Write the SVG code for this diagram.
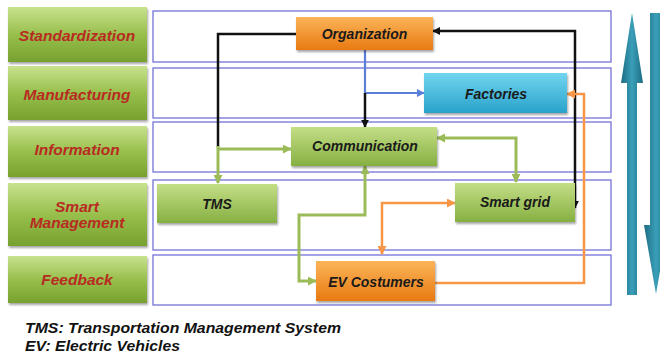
<svg xmlns="http://www.w3.org/2000/svg" width="660" height="354" viewBox="0 0 660 354">
<defs>
<linearGradient id="gLabel" x1="0" y1="0" x2="0" y2="1"><stop offset="0" stop-color="#c8e28e"/><stop offset="0.5" stop-color="#98bf4c"/><stop offset="1" stop-color="#77a12f"/></linearGradient>
<linearGradient id="gGreen" x1="0" y1="0" x2="0" y2="1"><stop offset="0" stop-color="#c4de86"/><stop offset="1" stop-color="#86b042"/></linearGradient>
<linearGradient id="gOrange" x1="0" y1="0" x2="0" y2="1"><stop offset="0" stop-color="#fbb458"/><stop offset="1" stop-color="#e87a12"/></linearGradient>
<linearGradient id="gBlue" x1="0" y1="0" x2="0" y2="1"><stop offset="0" stop-color="#72d5ef"/><stop offset="1" stop-color="#28a2cb"/></linearGradient>
<linearGradient id="gTeal" x1="0" y1="0" x2="1" y2="0"><stop offset="0" stop-color="#1d6c82"/><stop offset="0.5" stop-color="#3a9fb9"/><stop offset="1" stop-color="#1d6c82"/></linearGradient>
<filter id="sh" x="-10%" y="-20%" width="130%" height="160%"><feDropShadow dx="1" dy="2" stdDeviation="1.3" flood-color="#000" flood-opacity="0.35"/></filter>
<marker id="ag" viewBox="0 0 10 10" refX="9" refY="5" markerWidth="9" markerHeight="9" markerUnits="userSpaceOnUse" orient="auto-start-reverse"><path d="M0,0 L10,5 L0,10 z" fill="#9bbb59"/></marker>
<marker id="ak" viewBox="0 0 10 10" refX="9" refY="5" markerWidth="8" markerHeight="8" markerUnits="userSpaceOnUse" orient="auto-start-reverse"><path d="M0,0 L10,5 L0,10 z" fill="#111"/></marker>
<marker id="ab" viewBox="0 0 10 10" refX="9" refY="5" markerWidth="8" markerHeight="8" markerUnits="userSpaceOnUse" orient="auto-start-reverse"><path d="M0,0 L10,5 L0,10 z" fill="#5a7fd6"/></marker>
<marker id="ao" viewBox="0 0 10 10" refX="9" refY="5" markerWidth="9" markerHeight="9" markerUnits="userSpaceOnUse" orient="auto-start-reverse"><path d="M0,0 L10,5 L0,10 z" fill="#f79646"/></marker>
</defs>
<style>
.lane{fill:#fff;stroke:#7272d8;stroke-width:1.3}
.lbl{fill:url(#gLabel);filter:url(#sh)}
.lt{font-family:"Liberation Sans",Arial,sans-serif;font-weight:bold;font-style:italic;font-size:15.5px;fill:#b82a22;text-anchor:middle}
.nt{font-family:"Liberation Sans",Arial,sans-serif;font-weight:bold;font-style:italic;font-size:14px;fill:#1a1a1a;text-anchor:middle}
.leg{font-family:"Liberation Sans",Arial,sans-serif;font-weight:bold;font-style:italic;font-size:15px;fill:#111}
.c{fill:none;stroke-linejoin:miter}
.cg{stroke:#9bbb59;stroke-width:3}
.ck{stroke:#111;stroke-width:2.5}
.cb{stroke:#5a7fd6;stroke-width:2.2}
.co{stroke:#f79646;stroke-width:2.5}
</style>
<rect width="660" height="354" fill="#fff"/>
<g id="lanes">
<rect class="lane" x="153" y="11" width="458" height="51"/>
<rect class="lane" x="153" y="68" width="458" height="50"/>
<rect class="lane" x="153" y="122" width="458" height="50"/>
<rect class="lane" x="153" y="180" width="458" height="70"/>
<rect class="lane" x="153" y="255" width="458" height="50"/>
</g>
<g id="label-standardization"><rect class="lbl" x="8" y="7" width="139" height="55"/><text class="lt" x="77" y="40.5">Standardization</text></g>
<g id="label-manufacturing"><rect class="lbl" x="8" y="66" width="139" height="54"/><text class="lt" x="77" y="100">Manufacturing</text></g>
<g id="label-information"><rect class="lbl" x="8" y="126" width="139" height="51"/><text class="lt" x="77" y="155">Information</text></g>
<g id="label-smart-management"><rect class="lbl" x="8" y="183" width="139" height="63"/><text class="lt" x="77" y="212">Smart</text><text class="lt" x="77" y="228">Management</text></g>
<g id="label-feedback"><rect class="lbl" x="8" y="256" width="139" height="47"/><text class="lt" x="77" y="285">Feedback</text></g>
<g id="connectors">
<path class="c ck" d="M296,34 H218 V147"/>
<path class="c cg" d="M218,146 V183" marker-end="url(#ag)"/>
<path class="c cg" d="M218,149 H291" marker-end="url(#ag)"/>
<path class="c cb" d="M365,50 V93 H424" marker-end="url(#ab)"/>
<path class="c ck" d="M365,93 V127" marker-end="url(#ak)"/>
<path class="c ck" d="M433,31 H575 V208" marker-start="url(#ak)" marker-end="url(#ak)"/>
<path class="c cg" d="M437,138 H516 V182" marker-start="url(#ag)" marker-end="url(#ag)"/>
<path class="c cg" d="M365,166 V215 H299 V281 H316" marker-start="url(#ag)" marker-end="url(#ag)"/>
<path class="c co" d="M435,283 H584 V94 H567" marker-end="url(#ao)"/>
<path class="c co" d="M455,203 H382 V254" marker-start="url(#ao)" marker-end="url(#ao)"/>
</g>
<g id="node-organization"><rect x="296" y="17" width="137" height="33" fill="url(#gOrange)" filter="url(#sh)"/><text class="nt" x="364.5" y="39">Organization</text></g>
<g id="node-factories"><rect x="424" y="73" width="143" height="40" fill="url(#gBlue)" filter="url(#sh)"/><text class="nt" x="496" y="99" fill="#122a40">Factories</text></g>
<g id="node-communication"><rect x="291" y="127" width="146" height="39" fill="url(#gGreen)" filter="url(#sh)"/><text class="nt" x="365" y="151">Communication</text></g>
<g id="node-tms"><rect x="157" y="184" width="120" height="39" fill="url(#gGreen)" filter="url(#sh)"/><text class="nt" x="217" y="209">TMS</text></g>
<g id="node-smart-grid"><rect x="455" y="183" width="120" height="39" fill="url(#gGreen)" filter="url(#sh)"/><text class="nt" x="515" y="207">Smart grid</text></g>
<g id="node-ev-costumers"><rect x="316" y="261" width="119" height="40" fill="url(#gOrange)" filter="url(#sh)"/><text class="nt" x="376" y="287">EV Costumers</text></g>
<g id="arrow-up"><polygon points="632,13 643,83 637,83 637,295 627,295 627,83 621,83" fill="url(#gTeal)"/></g>
<g id="arrow-down"><polygon points="650,13 662,13 662,225 668,225 656,294 644,225 650,225" fill="url(#gTeal)"/></g>
<g id="legend">
<text class="leg" x="25" y="333" textLength="316" lengthAdjust="spacingAndGlyphs">TMS: Transportation Management System</text>
<text class="leg" x="25" y="351" textLength="155" lengthAdjust="spacingAndGlyphs">EV: Electric Vehicles</text>
</g>
</svg>
